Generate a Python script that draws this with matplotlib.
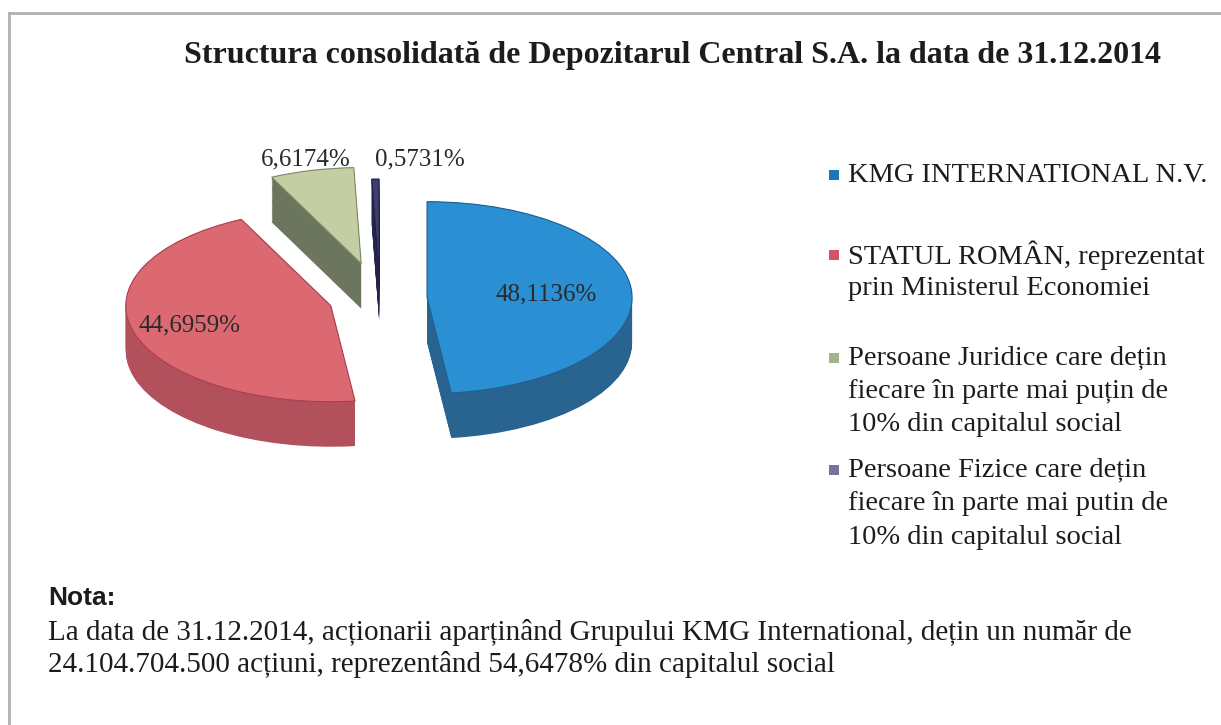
import numpy as np
import matplotlib.pyplot as plt
from matplotlib.patches import Rectangle
from matplotlib.lines import Line2D

# data
title = 'Structura consolidată de Depozitarul Central S.A. la data de 31.12.2014'
labels = ['KMG INTERNATIONAL N.V.',
          'STATUL ROMÂN, reprezentat\nprin Ministerul Economiei',
          'Persoane Juridice care dețin\nfiecare în parte mai puțin de\n10% din capitalul social',
          'Persoane Fizice care dețin\nfiecare în parte mai putin de\n10% din capitalul social']
values = [48.1136, 44.6959, 6.6174, 0.5731]
note_title = 'Nota:'
note_lines = ['La data de 31.12.2014, acționarii aparținând Grupului KMG International, dețin un număr de',
              '24.104.704.500 acțiuni, reprezentând 54,6478% din capitalul social']

# styles
top_colors = ['#2b8fd4', '#dc6872', '#c4cea3', '#3e3c70']
side_colors = ['#28648f', '#b2505c', '#6c765f', '#25244a']
edge_colors = ['#1f5f8f', '#a8404e', '#7d8a66', '#202040']
legend_colors = ['#1f76b6', '#d25566', '#a3b38a', '#74749e']
explode = [0.23, 0.25, 0.38, 0.25]
label_r = [0.58, 0.72, 1.12, 1.2]
label_ha = ['center', 'center', 'center', 'left']

W, H = 1221, 725
cx, cy = 380, 299      # pie centre in pixels
sx, sy = 205, 96       # pixels per unit radius (x, y) -> tilted ellipse
depth = 45 / sy

serif = 'Liberation Serif'
txt = '#1c1c1c'

fig = plt.figure(figsize=(W / 100, H / 100), dpi=100)
ax = fig.add_axes([0, 0, 1, 1])

# side walls: stacked layers, deepest first
for d in np.linspace(depth, 0, 50):
    ax.pie(values, explode=explode, startangle=90, counterclock=False,
           colors=side_colors, center=(0, -d), radius=1,
           wedgeprops=dict(linewidth=0, antialiased=True))

# top surface
wedges, _ = ax.pie(values, explode=explode, startangle=90, counterclock=False,
                   colors=top_colors, center=(0, 0), radius=1,
                   wedgeprops=dict(linewidth=0.8))
for w, ec in zip(wedges, edge_colors):
    w.set_edgecolor(ec)

# value labels
for w, v, r, ha in zip(wedges, values, label_r, label_ha):
    mid = np.deg2rad((w.theta1 + w.theta2) / 2)
    x = w.center[0] + r * np.cos(mid)
    y = w.center[1] + r * np.sin(mid)
    ax.text(x, y, f'{v:.4f}'.replace('.', ',') + '%', ha=ha, va='center',
            fontsize=18, family=serif, color='#2a2a2a')

ax.set_xlim(-cx / sx, (W - cx) / sx)
ax.set_ylim(-(H - cy) / sy, cy / sy)
ax.set_aspect('auto')
ax.axis('off')

# frame
fig.add_artist(Line2D([9 / W, 1], [1 - 13 / H, 1 - 13 / H], color='#b0b0b0', lw=2))
fig.add_artist(Line2D([9 / W, 9 / W], [0, 1 - 13 / H], color='#b0b0b0', lw=2))

# title
fig.text(672 / W, 1 - 56 / H, title, ha='center', va='center', fontsize=23,
         weight='bold', family=serif, color=txt)

# legend
legend_y = [175, 255, 358, 470]
line_h = 33.5
for lab, col, y0 in zip(labels, legend_colors, legend_y):
    fig.add_artist(Rectangle((829 / W, 1 - (y0 + 5) / H), 10 / W, 10 / H,
                             facecolor=col, edgecolor='none',
                             transform=fig.transFigure))
    for k, line in enumerate(lab.split('\n')):
        fig.text(848 / W, 1 - (y0 + k * line_h) / H, line, ha='left', va='center',
                 fontsize=20.5, family=serif, color=txt)

# note
fig.text(48 / W, 1 - 598 / H, note_title, ha='left', va='center', fontsize=19,
         weight='bold', family='Liberation Sans', color=txt)
for k, line in enumerate(note_lines):
    fig.text(48 / W, 1 - (633 + k * 32) / H, line, ha='left', va='center',
             fontsize=21, family=serif, color=txt)

fig.savefig('out.png', dpi=100, facecolor='white')
